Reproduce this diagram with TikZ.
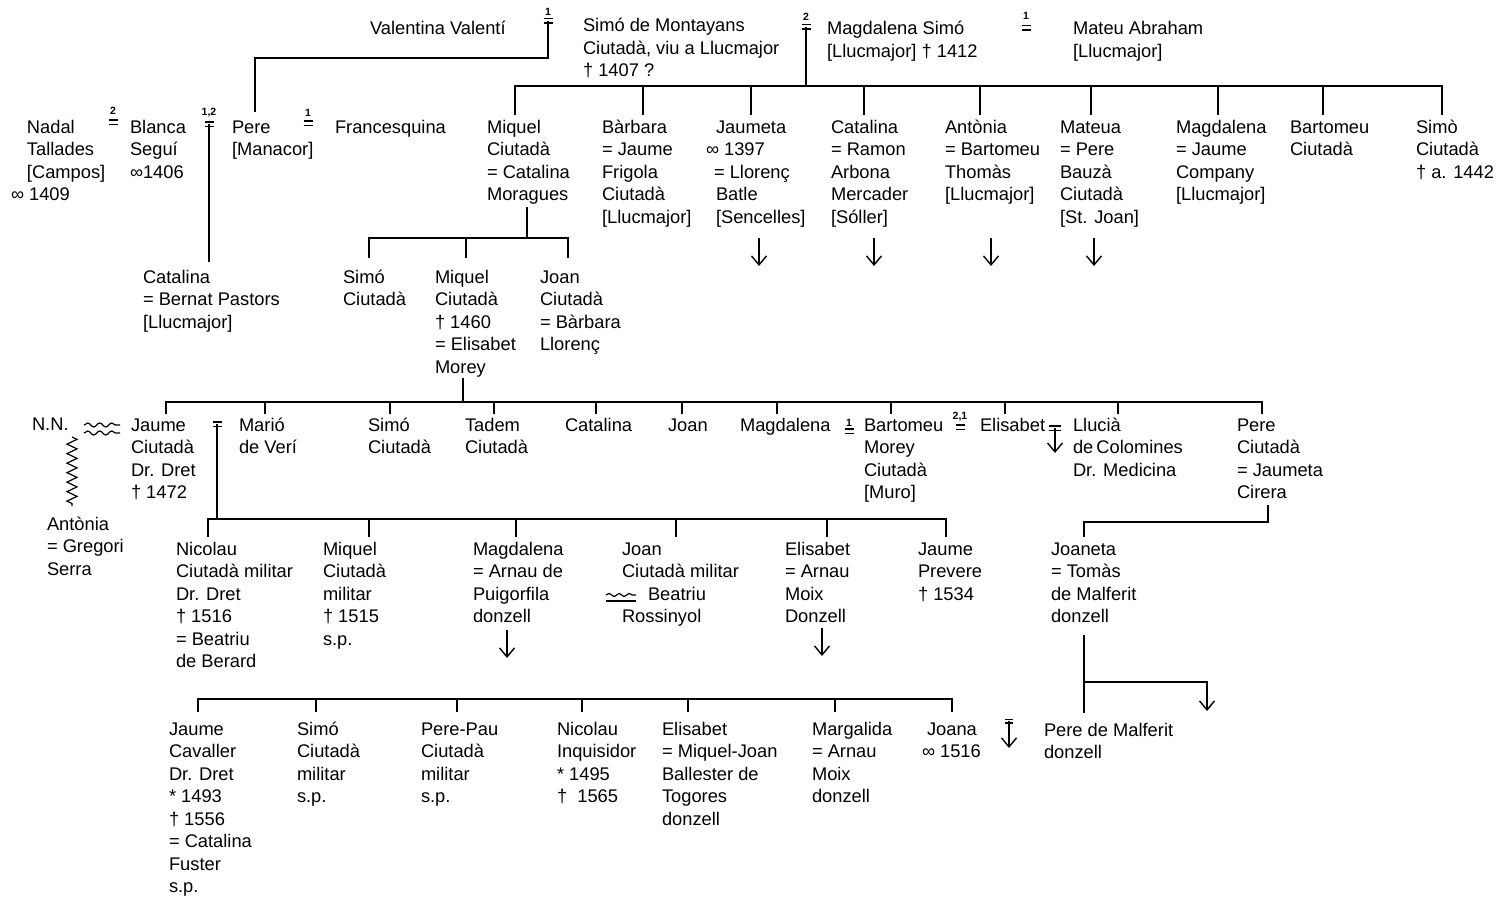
\documentclass[tikz,border=0pt]{standalone}
\usepackage{fontspec}
\setmainfont{Liberation Sans}
\usetikzlibrary{arrows.meta,decorations.pathmorphing}
\newcommand\lines[1]{\vtop{\let\\\cr\halign{##\hfil\cr#1\crcr}}}
% marriage sign: name, x, y, label, label offset
\newcommand\msign[5]{%
  \coordinate (#1) at (#2,#3);
  \draw[msl] ([xshift=-4.5pt,yshift=2.2pt]#1) -- ++(9,0)
             ([xshift=-4.5pt,yshift=-2.2pt]#1) -- ++(9,0);
  \node[num] (#1-lab) at ([yshift=#5]#1) {#4};}
\tikzset{
 txt/.style={anchor=base west,inner sep=0pt,outer sep=0pt,font=\fontsize{18.3}{22.5}\selectfont},
 msl/.style={line width=1.4pt},
 num/.style={inner sep=0pt,font=\bfseries\fontsize{10.5}{11}\selectfont},
 ln/.style={line width=1.4pt},
 arr/.style={line width=1.4pt,-{Straight Barb[length=9pt,width=15pt,line width=1.4pt]}},
 wave/.style={line width=1.2pt,decorate,decoration={snake,amplitude=2pt,segment length=12pt}},
 zz/.style={line width=1.2pt,decorate,decoration={zigzag,amplitude=5pt,segment length=9.5pt}}
}
\begin{document}
\begin{tikzpicture}[x=1pt,y=-1pt]
\useasboundingbox (0,0) rectangle (1507,899);

% ---------- top row
\node[txt] (valentina) at (370,35) {Valentina Valentí};
\node[txt] (simo) at (583,32) {\lines{Simó de Montayans\\Ciutadà, viu a Llucmajor\\† 1407 ?}};
\node[txt] (magdalenaS) at (827,35) {\lines{Magdalena Simó\\{}[Llucmajor] † 1412}};
\node[txt] (mateu) at (1073,35) {\lines{Mateu Abraham\\{}[Llucmajor]}};
\msign{m1}{548}{21}{1}{9.5pt}
\msign{m2}{806}{27}{2}{10pt}
\msign{m3}{1026}{28}{1}{12pt}

% ---------- row 1
\node[txt] (nadal) at (11,133) {\lines{\hspace*{16pt}Nadal\\\hspace*{16pt}Tallades\\\hspace*{16pt}[Campos]\\∞ 1409}};
\msign{m4}{113}{122}{2}{11pt}
\node[txt] (blanca) at (130,133) {\lines{Blanca\\Seguí\\∞1406}};
\msign{m5}{209}{124}{1,2}{11pt}
\node[txt] (pere1) at (232,133) {\lines{Pere\\{}[Manacor]}};
\msign{m6}{308}{123}{1}{10.5pt}
\node[txt] (francesquina) at (335,133) {Francesquina};
\node[txt] (miquel1) at (487,133) {\lines{Miquel\\Ciutadà\\= Catalina\\Moragues}};
\node[txt] (barbara) at (602,133) {\lines{Bàrbara\\= Jaume\\Frigola\\Ciutadà\\{}[Llucmajor]}};
\node[txt] (jaumeta) at (706,133) {\lines{\hspace*{10pt}Jaumeta\\∞ 1397\\\hspace*{8pt}= Llorenç\\\hspace*{10pt}Batle\\\hspace*{10pt}[Sencelles]}};
\node[txt] (catalina1) at (831,133) {\lines{Catalina\\= Ramon\\Arbona\\Mercader\\{}[Sóller]}};
\node[txt] (antonia1) at (945,133) {\lines{Antònia\\= Bartomeu\\Thomàs\\{}[Llucmajor]}};
\node[txt] (mateua) at (1060,133) {\lines{Mateua\\= Pere\\Bauzà\\Ciutadà\\{}[St. Joan]}};
\node[txt] (magdalena1) at (1176,133) {\lines{Magdalena\\= Jaume\\Company\\{}[Llucmajor]}};
\node[txt] (bartomeu1) at (1290,133) {\lines{Bartomeu\\Ciutadà}};
\node[txt] (simo1) at (1416,133) {\lines{Simò\\Ciutadà\\† a. 1442}};

% connectors top
\draw[ln] (m1) |- (255,58) -- (255,112);
\draw[ln] (m2) -- (806,86);
\draw[ln] (515,115) |- (1442,86) -- (1442,115);
\foreach \x in {643,751,864,980,1091,1218,1323} \draw[ln] (\x,86) -- (\x,115);
\foreach \x in {759,874,991,1094} \draw[arr] (\x,238) -- (\x,266);
\draw[ln] (m5) -- (209,262);

% ---------- row 2
\draw[ln] (527,207) -- (527,238);
\draw[ln] (369,258) |- (568,238) -- (568,258);
\draw[ln] (466,238) -- (466,258);
\node[txt] (catalina2) at (143,283) {\lines{Catalina\\= Bernat Pastors\\{}[Llucmajor]}};
\node[txt] (simo2) at (343,283) {\lines{Simó\\Ciutadà}};
\node[txt] (miquel2) at (435,283) {\lines{Miquel\\Ciutadà\\† 1460\\= Elisabet\\Morey}};
\node[txt] (joan2) at (540,283) {\lines{Joan\\Ciutadà\\= Bàrbara\\Llorenç}};

% ---------- row 3
\draw[ln] (463,378) -- (463,402);
\draw[ln] (166,414) |- (1262,402) -- (1262,414);
\foreach \x in {265,390,494,596,682,777,891,1005,1118} \draw[ln] (\x,402) -- (\x,414);
\node[txt] (nn) at (32,430) {N.N.};
\draw[wave] (84,425) -- (120,425);
\draw[wave] (84,433) -- (120,433);
\draw[zz] (72,437) -- (72,506);
\node[txt] (jaume3) at (131,431) {\lines{Jaume\\Ciutadà\\Dr. Dret\\† 1472}};
\msign{m7}{217}{424}{}{0pt}
\node[txt] (mario) at (239,431) {\lines{Marió\\de Verí}};
\node[txt] (simo3) at (368,431) {\lines{Simó\\Ciutadà}};
\node[txt] (tadem) at (465,431) {\lines{Tadem\\Ciutadà}};
\node[txt] (catalina3) at (565,431) {Catalina};
\node[txt] (joan3) at (668,431) {Joan};
\node[txt] (magdalena3) at (740,431) {Magdalena};
\msign{m8}{849}{431}{1}{8pt}
\node[txt] (bartomeu3) at (864,431) {\lines{Bartomeu\\Morey\\Ciutadà\\{}[Muro]}};
\msign{m9}{960}{427}{2,1}{10pt}
\node[txt] (elisabet3) at (980,431) {Elisabet};
\coordinate (m10) at (1055,428);
\draw[msl] ([xshift=-6pt,yshift=2.2pt]m10) -- ++(12,0) ([xshift=-6pt,yshift=-2.2pt]m10) -- ++(12,0);
\draw[arr] (m10) -- (1055,453);
\node[txt] (llucia) at (1073,431) {\lines{Llucià\\de\,Colomines\\Dr. Medicina}};
\node[txt] (pere3) at (1237,431) {\lines{Pere\\Ciutadà\\= Jaumeta\\Cirera}};
\node[txt] (antonia3) at (47,530) {\lines{Antònia\\= Gregori\\Serra}};

% ---------- row 4
\draw[ln] (m7) -- (217,519);
\draw[ln] (208,537) |- (946,519) -- (946,537);
\foreach \x in {369,516,676,827} \draw[ln] (\x,519) -- (\x,537);
\draw[ln] (1268,505) |- (1084,522) -- (1084,537);
\node[txt] (nicolau4) at (176,555) {\lines{Nicolau\\Ciutadà militar\\Dr. Dret\\† 1516\\= Beatriu\\de Berard}};
\node[txt] (miquel4) at (323,555) {\lines{Miquel\\Ciutadà\\militar\\† 1515\\s.p.}};
\node[txt] (magdalena4) at (473,555) {\lines{Magdalena\\= Arnau de\\Puigorfila\\donzell}};
\node[txt] (joan4) at (622,555) {\lines{Joan\\Ciutadà militar\\\hspace*{26pt}Beatriu\\Rossinyol}};
\draw[wave,decoration={snake,amplitude=1.6pt,segment length=10pt}] (606,595) -- (636,595);
\draw[line width=1.1pt] (606,601) -- (636,601);
\node[txt] (elisabet4) at (785,555) {\lines{Elisabet\\= Arnau\\Moix\\Donzell}};
\node[txt] (jaume4) at (918,555) {\lines{Jaume\\Prevere\\† 1534}};
\node[txt] (joaneta) at (1051,555) {\lines{Joaneta\\= Tomàs\\de Malferit\\donzell}};
\draw[arr] (507,630) -- (507,658);
\draw[arr] (822,628) -- (822,656);
\draw[ln] (1084,635) -- (1084,713);
\draw[arr] (1084,682) -| (1207,711);

% ---------- row 5
\draw[ln] (198,712) |- (952,699) -- (952,712);
\foreach \x in {316,457,582,688,835} \draw[ln] (\x,699) -- (\x,712);
\node[txt] (jaume5) at (169,735) {\lines{Jaume\\Cavaller\\Dr. Dret\\* 1493\\† 1556\\= Catalina\\Fuster\\s.p.}};
\node[txt] (simo5) at (297,735) {\lines{Simó\\Ciutadà\\militar\\s.p.}};
\node[txt] (perepau) at (421,735) {\lines{Pere-Pau\\Ciutadà\\militar\\s.p.}};
\node[txt] (nicolau5) at (557,735) {\lines{Nicolau\\Inquisidor\\* 1495\\†\ \ 1565}};
\node[txt] (elisabet5) at (662,735) {\lines{Elisabet\\= Miquel-Joan\\Ballester de\\Togores\\donzell}};
\node[txt] (margalida) at (812,735) {\lines{Margalida\\= Arnau\\Moix\\donzell}};
\node[txt] (joana) at (922,735) {\lines{\hspace*{5pt}Joana\\∞ 1516}};
\coordinate (m11) at (1009,721);
\draw[msl] ([xshift=-4pt,yshift=1.8pt]m11) -- ++(8,0) ([xshift=-4pt,yshift=-1.8pt]m11) -- ++(8,0);
\draw[arr] (m11) -- (1009,748);
\node[txt] (peremalferit) at (1044,736) {\lines{Pere de Malferit\\donzell}};
\end{tikzpicture}
\end{document}
